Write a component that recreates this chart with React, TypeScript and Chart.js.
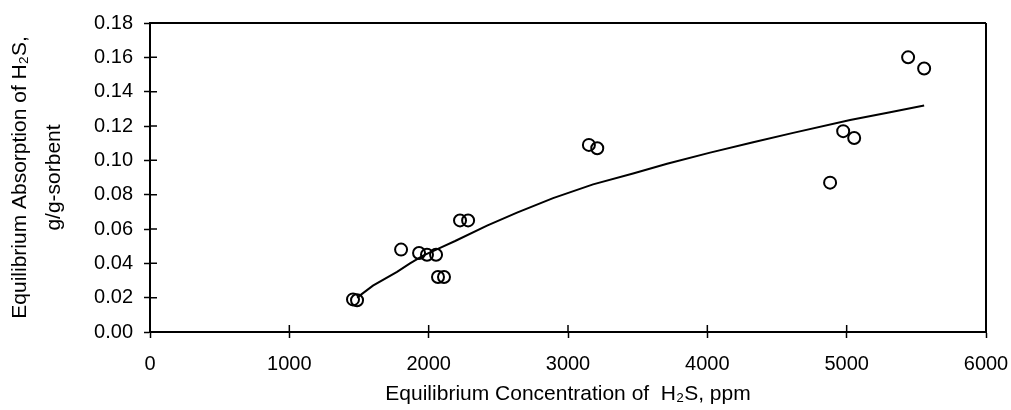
import React, { useEffect, useRef } from "react";
import { Chart, registerables } from "chart.js";

Chart.register(...registerables);

// Observed equilibrium data (ppm, g/g-sorbent)
const obsX = [1457, 1486, 1802, 1931, 1988, 2053, 2067, 2110, 2225, 2283, 3150, 3210, 4881, 4975, 5054, 5441, 5556];
const obsY = [0.019, 0.0185, 0.048, 0.046, 0.045, 0.045, 0.032, 0.032, 0.065, 0.065, 0.109, 0.107, 0.087, 0.117, 0.113, 0.160, 0.1535];

// Model curve
const fitX = [1486, 1600, 1773, 1866, 1960, 2082, 2190, 2419, 2634, 2893, 3180, 3467, 3711, 4020, 4329, 4616, 5025, 5312, 5556];
const fitY = [0.020, 0.027, 0.035, 0.040, 0.0445, 0.049, 0.053, 0.062, 0.0695, 0.078, 0.086, 0.0923, 0.098, 0.1045, 0.1105, 0.116, 0.1235, 0.128, 0.132];

const xTitle = "Equilibrium Concentration of  H\u2082S, ppm";
const yTitle = ["Equilibrium Absorption of H\u2082S,", "g/g-sorbent"];

const FONT = "'Liberation Sans', Arial, sans-serif";

const framePlugin = {
  id: "frame",
  afterDraw(chart: any) {
    const { ctx, chartArea } = chart;
    const { left, right, top, bottom } = chartArea;
    const xs = chart.scales.x;
    const ys = chart.scales.y;
    ctx.save();
    ctx.strokeStyle = "#000";
    ctx.lineWidth = 2;
    ctx.beginPath();
    ctx.moveTo(left, top);
    ctx.lineTo(right, top);
    ctx.moveTo(right, top);
    ctx.lineTo(right, bottom);
    ctx.stroke();
    ctx.lineWidth = 1.5;
    ctx.beginPath();
    xs.ticks.forEach((t: any) => {
      const px = xs.getPixelForValue(t.value);
      ctx.moveTo(px, bottom);
      ctx.lineTo(px, bottom - 7);
    });
    ys.ticks.forEach((t: any) => {
      const py = ys.getPixelForValue(t.value);
      ctx.moveTo(left, py);
      ctx.lineTo(left + 7, py);
    });
    ctx.stroke();
    ctx.restore();
  },
};

export default function App() {
  const ref = useRef<HTMLCanvasElement | null>(null);
  useEffect(() => {
    if (!ref.current) return;
    const chart = new Chart(ref.current, {
      type: "scatter",
      data: {
        datasets: [
          {
            label: "fit",
            data: fitX.map((x, i) => ({ x, y: fitY[i] })),
            showLine: true,
            borderColor: "#000",
            borderWidth: 2,
            pointRadius: 0,
            tension: 0,
            fill: false,
          },
          {
            label: "observed",
            data: obsX.map((x, i) => ({ x, y: obsY[i] })),
            showLine: false,
            pointStyle: "circle",
            pointRadius: 6,
            pointBorderWidth: 2,
            pointBorderColor: "#000",
            pointBackgroundColor: "rgba(0,0,0,0)",
          },
        ],
      },
      options: {
        animation: false,
        responsive: false,
        maintainAspectRatio: false,
        layout: { padding: { left: 0, top: 20, right: 25, bottom: 0 } },
        plugins: {
          legend: { display: false },
          tooltip: { enabled: false },
        },
        scales: {
          x: {
            type: "linear",
            min: 0,
            max: 6000,
            afterFit(scale: any) {
              scale.height = 78;
              scale.paddingLeft = 0;
              scale.paddingRight = 0;
            },
            ticks: {
              stepSize: 1000,
              color: "#000",
              padding: 14,
              font: { family: FONT, size: 20 },
              maxRotation: 0,
              callback: (v: any) => String(Math.round(Number(v))),
            },
            grid: {
              display: true,
              drawOnChartArea: false,
              drawTicks: true,
              tickLength: 6,
              tickWidth: 1.5,
              tickColor: "#000",
            },
            border: { display: true, color: "#000", width: 2 },
            title: {
              display: true,
              text: xTitle,
              color: "#000",
              font: { family: FONT, size: 21, lineHeight: 1.1 },
              padding: { top: 0, bottom: 4 },
            },
          },
          y: {
            type: "linear",
            min: 0,
            max: 0.18,
            afterFit(scale: any) {
              scale.width = 150;
            },
            ticks: {
              stepSize: 0.02,
              color: "#000",
              padding: 11,
              font: { family: FONT, size: 20 },
              callback: (v: any) => Number(v).toFixed(2),
            },
            grid: {
              display: true,
              drawOnChartArea: false,
              drawTicks: true,
              tickLength: 6,
              tickWidth: 1.5,
              tickColor: "#000",
            },
            border: { display: true, color: "#000", width: 2 },
            title: {
              display: true,
              text: yTitle,
              color: "#000",
              font: { family: FONT, size: 21, lineHeight: 1.62 },
              padding: { top: 3, bottom: 0 },
            },
          },
        },
      },
      plugins: [framePlugin],
    });
    return () => chart.destroy();
  }, []);
  return (
    <div style={{ position: "fixed", left: 0, top: 0, width: 1011, height: 410, background: "#fff" }}>
      <canvas ref={ref} width={1011} height={410} style={{ width: 1011, height: 410 }} />
    </div>
  );
}
